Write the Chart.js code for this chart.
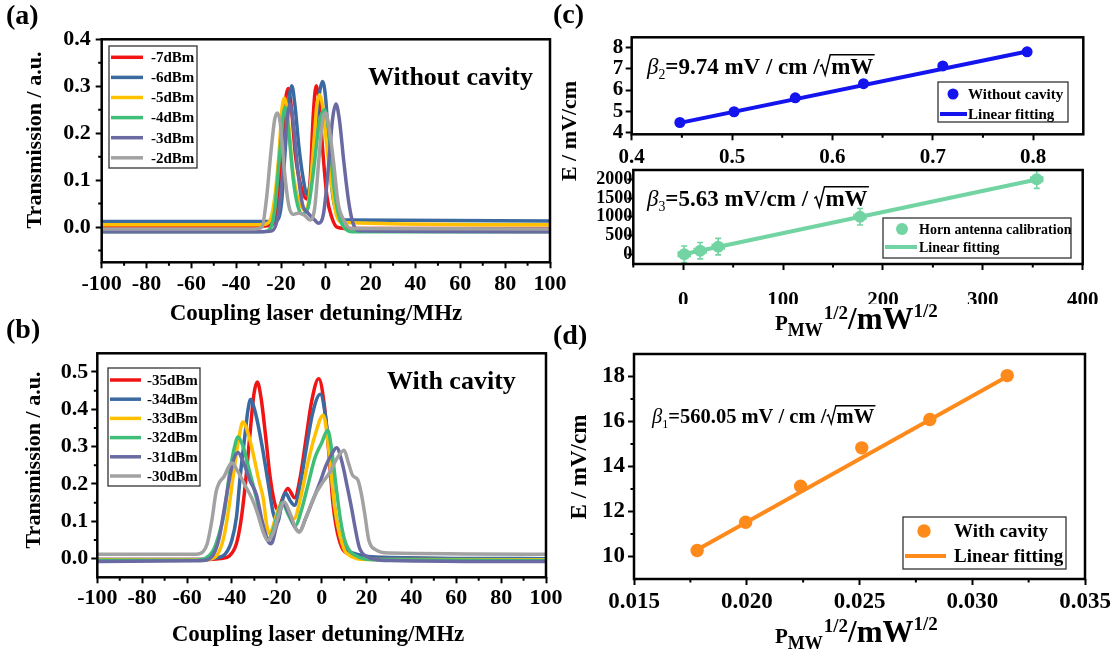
<!DOCTYPE html>
<html>
<head>
<meta charset="utf-8">
<script src="https://cdn.jsdelivr.net/npm/chart.js@4.4.0/dist/chart.umd.min.js"></script>
<style>
  body { margin: 0; background: #fff; }
  #fig { position: relative; width: 1117px; height: 660px; }
  #fig canvas { position: absolute; left: 0; top: 0; }
</style>
</head>
<body>
<div id="fig">
  <canvas id="chartA" width="1117" height="660"></canvas>
  <canvas id="chartB" width="1117" height="660"></canvas>
  <canvas id="chartCU" width="1117" height="660"></canvas>
  <canvas id="chartCL" width="1117" height="660"></canvas>
  <canvas id="chartD" width="1117" height="660"></canvas>
</div>
<script>
const serif = '"Liberation Serif", "Times New Roman", serif';
const W = 1117, H = 660;

// ---- (a) without cavity: transmission vs coupling laser detuning (MHz)
const aLabels = ['-7dBm', '-6dBm', '-5dBm', '-4dBm', '-3dBm', '-2dBm'];
const aM7 = [[-100,0.002],[-30,0.002],[-24,0.005],[-21.5,0.05],[-19.5,0.17],[-18,0.27],[-16.8,0.295],[-15.5,0.26],[-13.5,0.15],[-11,0.085],[-8.5,0.06],[-7,0.1],[-5.6,0.24],[-4.3,0.301],[-3,0.27],[-1.5,0.17],[0.5,0.065],[2.7,0.02],[5,0.0],[10,-0.003],[100,-0.003]];
const aM6 = [[-100,0.012],[-24,0.012],[-21.5,0.015],[-19.8,0.05],[-18.2,0.16],[-16.5,0.27],[-15.2,0.301],[-13.8,0.26],[-12,0.17],[-10,0.1],[-8.5,0.07],[-7,0.09],[-5,0.18],[-3,0.28],[-1.5,0.31],[0,0.27],[1.5,0.15],[3,0.07],[5,0.028],[8,0.015],[100,0.013]];
const aM5 = [[-100,0.005],[-30,0.005],[-26,0.008],[-23.5,0.04],[-21,0.15],[-19.6,0.25],[-18.6,0.275],[-17,0.24],[-15,0.13],[-13,0.07],[-11,0.045],[-9.2,0.035],[-7.5,0.06],[-5.5,0.17],[-4,0.26],[-2.8,0.282],[-1.5,0.26],[0.5,0.17],[2.7,0.085],[4.5,0.03],[7,0.01],[100,0.005]];
const aM4 = [[-100,-0.01],[-30,-0.01],[-26,-0.008],[-23,0.03],[-20.5,0.16],[-18.2,0.255],[-16.5,0.2],[-14.5,0.1],[-12.5,0.045],[-10.5,0.028],[-8,0.04],[-5.5,0.12],[-3,0.22],[-0.6,0.25],[1.5,0.2],[3.5,0.09],[5.5,0.03],[8,0.0],[12,-0.01],[100,-0.01]];
const aM3 = [[-100,-0.01],[-30,-0.01],[-24,-0.008],[-21.5,0.02],[-19.5,0.1],[-17.5,0.22],[-15.9,0.262],[-14.5,0.22],[-12.5,0.12],[-10.5,0.05],[-8,0.03],[-5.5,0.018],[-3.2,0.008],[-1,0.03],[1,0.12],[3,0.23],[4.5,0.262],[6,0.23],[8,0.14],[10,0.06],[12,0.01],[15,-0.008],[100,-0.01]];
const aM2 = [[-100,-0.004],[-32,-0.004],[-28.5,0.0],[-26.5,0.06],[-24.5,0.16],[-22.8,0.23],[-21.6,0.243],[-20.3,0.22],[-18.5,0.12],[-16.5,0.045],[-14.5,0.027],[-12,0.03],[-9.5,0.025],[-7,0.015],[-5,0.04],[-3,0.15],[-1.2,0.235],[-0.1,0.243],[1.5,0.21],[3.4,0.14],[5.5,0.05],[8,0.015],[11,-0.003],[100,-0.004]];
const aSeries = [aM7, aM6, aM5, aM4, aM3, aM2];

// ---- (b) with cavity
const bLabels = ['-35dBm', '-34dBm', '-33dBm', '-32dBm', '-31dBm', '-30dBm'];
const bM35 = [[-100,-0.002],[-50,-0.002],[-45,0.0],[-41,0.008],[-38,0.04],[-36,0.1],[-34,0.2],[-32,0.33],[-30.2,0.44],[-28.7,0.473],[-27,0.43],[-25,0.33],[-23,0.22],[-21,0.15],[-19.5,0.13],[-17.5,0.16],[-15.1,0.188],[-12,0.163],[-9.5,0.22],[-7,0.32],[-4.5,0.42],[-1.3,0.482],[1,0.42],[3.4,0.27],[5,0.15],[6.5,0.085],[9,0.03],[13,0.012],[25,0.003],[100,-0.002]];
const bM34 = [[-100,-0.002],[-52,-0.002],[-47,0.002],[-43,0.012],[-40,0.05],[-38,0.11],[-36.3,0.22],[-34.4,0.32],[-32.8,0.4],[-31.7,0.426],[-29.5,0.39],[-26.5,0.3],[-23.5,0.19],[-21.5,0.12],[-19.6,0.098],[-17.8,0.15],[-16.1,0.176],[-14,0.155],[-12.1,0.143],[-9.5,0.2],[-7,0.29],[-4,0.39],[-0.6,0.44],[1.5,0.39],[3.4,0.29],[5.5,0.15],[7.2,0.085],[10,0.03],[14,0.015],[25,0.004],[100,0.0]];
const bM33 = [[-100,-0.003],[-55,-0.003],[-50,-0.002],[-46,0.015],[-43.5,0.06],[-41.5,0.13],[-39,0.24],[-37,0.32],[-35.1,0.366],[-33,0.34],[-30.5,0.28],[-28,0.21],[-26,0.16],[-24.5,0.09],[-23.2,0.066],[-21.5,0.09],[-19.5,0.13],[-17.5,0.15],[-15,0.125],[-12.3,0.107],[-9.5,0.16],[-6,0.26],[-3,0.33],[0.7,0.384],[2.5,0.33],[4.2,0.23],[6,0.13],[8,0.065],[11,0.015],[20,-0.002],[100,-0.003]];
const bM32 = [[-100,-0.004],[-56,-0.004],[-52,0.0],[-48.5,0.02],[-46,0.06],[-43.5,0.12],[-41,0.23],[-38.8,0.3],[-37.3,0.326],[-35,0.3],[-32,0.23],[-29,0.16],[-26.5,0.09],[-24,0.05],[-22,0.07],[-20,0.11],[-17.5,0.15],[-15,0.12],[-11.8,0.088],[-9,0.13],[-6,0.2],[-3,0.27],[0,0.31],[2.7,0.344],[4.5,0.29],[6.5,0.19],[8.5,0.1],[10.5,0.045],[14,0.012],[25,-0.003],[100,-0.005]];
const bM31 = [[-100,-0.008],[-56,-0.006],[-51,-0.003],[-47.5,0.02],[-45.5,0.06],[-43.5,0.13],[-41.5,0.2],[-39.5,0.26],[-37.3,0.284],[-35,0.26],[-32,0.21],[-29,0.17],[-26.5,0.1],[-24,0.048],[-22.5,0.04],[-20,0.09],[-17,0.146],[-14.5,0.12],[-12,0.085],[-10,0.072],[-7,0.11],[-4,0.155],[-1,0.2],[2,0.25],[4.5,0.28],[6.7,0.297],[9,0.26],[11.5,0.19],[13.5,0.13],[15,0.08],[16.8,0.03],[19.5,0.008],[30,-0.005],[100,-0.008]];
const bM30 = [[-100,0.012],[-56,0.012],[-53,0.018],[-51,0.04],[-49,0.1],[-47,0.18],[-45.5,0.205],[-43.5,0.22],[-41.5,0.245],[-40,0.257],[-37.5,0.235],[-34,0.195],[-31,0.16],[-28.5,0.12],[-26,0.07],[-24,0.049],[-21.5,0.07],[-19,0.12],[-16.7,0.152],[-14,0.12],[-11.5,0.08],[-10,0.071],[-7,0.11],[-3,0.17],[0,0.2],[3.5,0.23],[7,0.27],[10,0.29],[12,0.255],[13.8,0.223],[16.2,0.21],[17.8,0.17],[19.2,0.12],[21,0.05],[24,0.024],[30,0.015],[100,0.012]];
const bSeries = [bM35, bM34, bM33, bM32, bM31, bM30];

const specColors = ['#f01414', '#3b6aa0', '#ffc000', '#3fbe78', '#6a6aa3', '#a2a2a2'];
const detuneTicks = [-100, -80, -60, -40, -20, 0, 20, 40, 60, 80, 100];
const detuneMinor = [-90, -70, -50, -30, -10, 10, 30, 50, 70, 90];
const aYTicks = [0, 0.1, 0.2, 0.3, 0.4];
const aYMinor = [-0.05, 0.05, 0.15, 0.25, 0.35];
const bYTicks = [0, 0.1, 0.2, 0.3, 0.4, 0.5];
const bYMinor = [0.05, 0.15, 0.25, 0.35, 0.45];

// ---- (c) top: without cavity, E vs sqrt(P)
const cuX = [0.448, 0.502, 0.563, 0.631, 0.710, 0.794];
const cuY = [4.46, 4.97, 5.63, 6.30, 7.14, 7.81];
const cuFit = [[0.448, 4.44], [0.794, 7.83]];
const cuXTicks = [0.4, 0.5, 0.6, 0.7, 0.8];
const cuXMinor = [0.45, 0.55, 0.65, 0.75];
const cuYTicks = [4, 5, 6, 7, 8];

// ---- (c) bottom: horn antenna calibration
const clX = [1, 17, 35, 177, 354];
const clY = [0, 96, 203, 1003, 2000];
const clXErr = [6, 6, 6, 6, 6];
const clYErr = [220, 220, 220, 220, 240];
const clFit = [[0, 0], [354, 1995]];
const clXTicks = [0, 100, 200, 300, 400];
const clXMinor = [-50, 50, 150, 250, 350];
const clYTicks = [0, 500, 1000, 1500, 2000];

// ---- (d) with cavity, E vs sqrt(P)
const dX = [0.0178, 0.01995, 0.02239, 0.0251, 0.02812, 0.03155];
const dY = [10.27, 11.52, 13.12, 14.83, 16.09, 18.04];
const dFit = [[0.0178, 10.3], [0.03155, 18.0]];
const dXTicks = [0.015, 0.020, 0.025, 0.030, 0.035];
const dXMinor = [0.0175, 0.0225, 0.0275, 0.0325];
const dYTicks = [10, 12, 14, 16, 18];
const dYMinor = [11, 13, 15, 17];


function pairs(arr) {
    return arr.map(p => ({ x: p[0], y: p[1] }));
}

function zip(xs, ys) {
    return xs.map((x, i) => ({ x: x, y: ys[i] }));
}

function txt(ctx, s, x, y, size, o) {
    o = o || {};
    ctx.save();
    ctx.font = (o.italic ? 'italic ' : '') + (o.normal ? '' : 'bold ') + size + 'px ' + serif;
    ctx.fillStyle = '#000';
    ctx.textAlign = o.align || 'left';
    ctx.textBaseline = o.base || 'alphabetic';
    ctx.translate(x, y);
    if (o.rot) ctx.rotate(o.rot);
    ctx.fillText(s, 0, 0);
    const w = ctx.measureText(s).width;
    ctx.restore();
    return w;
}

// beta_n = value / sqrt(mW), x is left edge, y baseline
function drawBeta(ctx, x, y, size, sub, rest) {
    x += txt(ctx, '\u03b2', x, y, size, { italic: true, normal: true });
    x += txt(ctx, sub, x, y + size * 0.22, size * 0.6, { normal: true });
    x += txt(ctx, rest, x, y, size);
    ctx.save();
    ctx.font = 'bold ' + size + 'px ' + serif;
    const mw = ctx.measureText('mW').width;
    ctx.strokeStyle = '#000';
    ctx.lineWidth = Math.max(1.2, size * 0.065);
    ctx.beginPath();
    ctx.moveTo(x + size * 0.02, y - size * 0.33);
    ctx.lineTo(x + size * 0.1, y - size * 0.4);
    ctx.lineTo(x + size * 0.24, y + size * 0.04);
    ctx.lineTo(x + size * 0.46, y - size * 0.84);
    ctx.lineTo(x + size * 0.56 + mw, y - size * 0.84);
    ctx.stroke();
    ctx.restore();
    txt(ctx, 'mW', x + size * 0.5, y, size);
}

// P_MW^1/2 / mW^1/2, x left edge, y baseline of the big part
function drawPmw(ctx, x, y) {
    x += txt(ctx, 'P', x, y + 1, 21);
    x += txt(ctx, 'MW', x, y + 7, 18);
    x += txt(ctx, '1/2', x + 1, y - 10, 19) + 1;
    x += txt(ctx, '/mW', x, y, 31);
    txt(ctx, '1/2', x, y - 12, 19);
}

// ---- small drawing plugins
function framePlugin() {
    return {
        id: 'frame',
        afterDatasetsDraw(chart) {
            const a = chart.chartArea, ctx = chart.ctx;
            ctx.save();
            ctx.strokeStyle = '#000';
            ctx.lineWidth = 2.5;
            ctx.strokeRect(a.left, a.top, a.right - a.left, a.bottom - a.top);
            ctx.restore();
        }
    };
}

function minorPlugin(xs, ys) {
    return {
        id: 'minorTicks',
        afterDraw(chart) {
            const a = chart.chartArea, ctx = chart.ctx;
            ctx.save();
            ctx.strokeStyle = '#000';
            ctx.lineWidth = 2;
            ctx.beginPath();
            xs.forEach(v => {
                const p = chart.scales.x.getPixelForValue(v);
                ctx.moveTo(p, a.bottom);
                ctx.lineTo(p, a.bottom + 3.5);
            });
            ys.forEach(v => {
                const p = chart.scales.y.getPixelForValue(v);
                ctx.moveTo(a.left, p);
                ctx.lineTo(a.left - 3.5, p);
            });
            ctx.stroke();
            ctx.restore();
        }
    };
}

function legendPlugin(cfg) {
    return {
        id: 'boxLegend',
        afterDraw(chart) {
            const ctx = chart.ctx, b = cfg.box;
            ctx.save();
            ctx.fillStyle = '#fff';
            ctx.fillRect(b[0], b[1], b[2], b[3]);
            ctx.strokeStyle = '#333';
            ctx.lineWidth = 1.3;
            ctx.strokeRect(b[0], b[1], b[2], b[3]);
            cfg.rows.forEach(r => {
                const ds = chart.data.datasets[r.ds];
                if (r.dot) {
                    ctx.fillStyle = ds.pointBackgroundColor;
                    ctx.beginPath();
                    ctx.arc(r.x0, r.y, r.dot, 0, Math.PI * 2);
                    ctx.fill();
                } else {
                    ctx.strokeStyle = ds.borderColor;
                    ctx.lineWidth = r.lw || 3.5;
                    ctx.beginPath();
                    ctx.moveTo(r.x0, r.y);
                    ctx.lineTo(r.x1, r.y);
                    ctx.stroke();
                }
                txt(ctx, ds.label, r.tx, r.y + 1, cfg.size, { base: 'middle' });
            });
            ctx.restore();
        }
    };
}

function errPlugin(xs, ys, ex, ey, color) {
    return {
        id: 'errBars',
        beforeDatasetsDraw(chart) {
            const ctx = chart.ctx, sx = chart.scales.x, sy = chart.scales.y;
            ctx.save();
            ctx.strokeStyle = color;
            ctx.lineWidth = 1.6;
            ctx.beginPath();
            xs.forEach((x, i) => {
                const px = sx.getPixelForValue(x), py = sy.getPixelForValue(ys[i]);
                const y0 = sy.getPixelForValue(ys[i] - ey[i]), y1 = sy.getPixelForValue(ys[i] + ey[i]);
                const x0 = sx.getPixelForValue(x - ex[i]), x1 = sx.getPixelForValue(x + ex[i]);
                ctx.moveTo(px, y0); ctx.lineTo(px, y1);
                ctx.moveTo(px - 3, y0); ctx.lineTo(px + 3, y0);
                ctx.moveTo(px - 3, y1); ctx.lineTo(px + 3, y1);
                ctx.moveTo(x0, py); ctx.lineTo(x1, py);
                ctx.moveTo(x0, py - 3); ctx.lineTo(x0, py + 3);
                ctx.moveTo(x1, py - 3); ctx.lineTo(x1, py + 3);
            });
            ctx.stroke();
            ctx.restore();
        }
    };
}

function notesPlugin(draw) {
    return { id: 'notes', afterDraw(chart) { draw(chart.ctx); } };
}

function axis(min, max, ticks, size, pad, fmt) {
    return {
        type: 'linear',
        min: min,
        max: max,
        afterBuildTicks: s => { s.ticks = ticks.map(v => ({ value: v })); },
        afterFit: s => { if (s.isHorizontal()) s.height = 40; else s.width = 80; },
        border: { display: false },
        grid: { drawOnChartArea: false, drawTicks: true, tickLength: 6, tickWidth: 2, tickColor: '#000' },
        ticks: {
            color: '#000',
            font: { family: serif, weight: 'bold', size: size },
            padding: pad,
            autoSkip: false,
            maxRotation: 0,
            callback: fmt
        }
    };
}

// box = [left, top, right, bottom] of the plot area in page pixels
function makeChart(id, box, scales, datasets, plugins) {
    return new Chart(document.getElementById(id), {
        type: 'line',
        data: { datasets: datasets },
        options: {
            responsive: false,
            animation: false,
            events: [],
            layout: { padding: { left: box[0] - 80, top: box[1], right: W - box[2], bottom: H - box[3] - 40 } },
            scales: scales,
            plugins: { legend: { display: false }, tooltip: { enabled: false } }
        },
        plugins: plugins
    });
}

function spectra(series, labels) {
    return series.map((s, i) => ({
        label: labels[i],
        data: pairs(s),
        borderColor: specColors[i],
        borderWidth: 3.5,
        pointRadius: 0,
        cubicInterpolationMode: 'monotone',
        order: series.length - i
    }));
}

function specLegend(box, y0, dy, x0, x1, tx) {
    return {
        box: box, size: 15,
        rows: [0, 1, 2, 3, 4, 5].map(i => ({ ds: i, y: y0 + i * dy, x0: x0, x1: x1, tx: tx, lw: 3.5 }))
    };
}

const fmt1 = v => v.toFixed(1);
const fmtInt = v => String(Math.round(v));
const fmt3 = v => v.toFixed(3);

// (a)
makeChart('chartA', [101.7, 39.3, 550, 262.3], {
    x: axis(-100, 100, detuneTicks, 22, 3, fmtInt),
    y: axis(-0.075, 0.4, aYTicks, 22, 5, fmt1)
}, spectra(aSeries, aLabels), [
    framePlugin(),
    minorPlugin(detuneMinor, aYMinor),
    legendPlugin(specLegend([109, 46, 88, 122], 57.3, 20.1, 111, 143, 151)),
    notesPlugin(ctx => {
        txt(ctx, '(a)', 6, 17, 28, { base: 'middle' });
        txt(ctx, 'Transmission / a.u.', 35, 140, 22, { rot: -Math.PI / 2, align: 'center', base: 'middle' });
        txt(ctx, 'Coupling laser detuning/MHz', 316, 320, 23, { align: 'center' });
        txt(ctx, 'Without cavity', 368, 85, 26);
    })
]);

// (b)
makeChart('chartB', [97.3, 353.3, 546, 577.3], {
    x: axis(-100, 100, detuneTicks, 22, 2, fmtInt),
    y: axis(-0.05, 0.55, bYTicks, 22, 3, fmt1)
}, spectra(bSeries, bLabels), [
    framePlugin(),
    minorPlugin(detuneMinor, bYMinor),
    legendPlugin(specLegend([108, 368, 92, 118], 380, 19.2, 110, 141, 147)),
    notesPlugin(ctx => {
        txt(ctx, '(b)', 6, 331, 28, { base: 'middle' });
        txt(ctx, 'Transmission / a.u.', 34, 460, 22, { rot: -Math.PI / 2, align: 'center', base: 'middle' });
        txt(ctx, 'Coupling laser detuning/MHz', 318, 641, 23, { align: 'center' });
        txt(ctx, 'With cavity', 387, 389, 26);
    })
]);

// (c) upper
makeChart('chartCU', [631.7, 37.3, 1083.3, 134.3], {
    x: axis(0.4, 0.85, cuXTicks, 21, 5, fmt1),
    y: axis(3.9, 8.5, cuYTicks, 21, 2.5, fmtInt)
}, [
    { label: 'Without cavity', data: zip(cuX, cuY), showLine: false, pointRadius: 5.5, pointBackgroundColor: '#1414ee', pointBorderWidth: 0, borderColor: '#1414ee' },
    { label: 'Linear fitting', data: pairs(cuFit), borderColor: '#1414ee', borderWidth: 4, pointRadius: 0 }
], [
    framePlugin(),
    minorPlugin(cuXMinor, []),
    legendPlugin({ box: [938, 82, 130, 40], size: 15, rows: [
        { ds: 0, y: 94, x0: 953, dot: 5.5, tx: 968 },
        { ds: 1, y: 114, x0: 940, x1: 967, tx: 968, lw: 4 }
    ] }),
    notesPlugin(ctx => {
        txt(ctx, '(c)', 553, 16, 28, { base: 'middle' });
        txt(ctx, 'E / mV/cm', 570, 131, 22, { rot: -Math.PI / 2, align: 'center', base: 'middle' });
        drawBeta(ctx, 647, 74, 23, '2', '=9.74 mV / cm /');
        drawBeta(ctx, 647, 206, 23, '3', '=5.63 mV/cm / ');
        drawPmw(ctx, 775, 329);
    })
]);

// (c) lower
makeChart('chartCL', [633.3, 170, 1082.7, 264], {
    x: axis(-50, 400, clXTicks, 21, 18, fmtInt),
    y: axis(-260, 2250, clYTicks, 18, -5, fmtInt)
}, [
    { label: 'Horn antenna calibration', data: zip(clX, clY), showLine: false, pointRadius: 6, pointBackgroundColor: '#72d4a2', pointBorderWidth: 0, borderColor: '#72d4a2' },
    { label: 'Linear fitting', data: pairs(clFit), borderColor: '#72d4a2', borderWidth: 4, pointRadius: 0 }
], [
    framePlugin(),
    minorPlugin(clXMinor, []),
    errPlugin(clX, clY, clXErr, clYErr, '#72d4a2'),
    legendPlugin({ box: [883, 218, 188, 40], size: 14, rows: [
        { ds: 0, y: 229, x0: 902, dot: 6, tx: 919 },
        { ds: 1, y: 247, x0: 885, x1: 917, tx: 919, lw: 4 }
    ] })
]);

// (d)
makeChart('chartD', [634, 354, 1085, 579], {
    x: axis(0.015, 0.035, dXTicks, 23, 3, fmt3),
    y: axis(9, 19, dYTicks, 23, 3, fmtInt)
}, [
    { label: 'With cavity', data: zip(dX, dY), showLine: false, pointRadius: 6.7, pointBackgroundColor: '#ff8a1c', pointBorderWidth: 0, borderColor: '#ff8a1c' },
    { label: 'Linear fitting', data: pairs(dFit), borderColor: '#ff8a1c', borderWidth: 4, pointRadius: 0 }
], [
    framePlugin(),
    minorPlugin(dXMinor, dYMinor),
    legendPlugin({ box: [903, 517, 163, 52], size: 19, rows: [
        { ds: 0, y: 531, x0: 924, dot: 6.7, tx: 954 },
        { ds: 1, y: 556, x0: 905, x1: 946, tx: 954, lw: 4 }
    ] }),
    notesPlugin(ctx => {
        txt(ctx, '(d)', 553, 337, 28, { base: 'middle' });
        txt(ctx, 'E / mV/cm', 580, 467, 23, { rot: -Math.PI / 2, align: 'center', base: 'middle' });
        drawBeta(ctx, 652, 423, 20.5, '1', '=560.05 mV / cm /');
        drawPmw(ctx, 775, 642);
    })
]);
</script>
</body>
</html>
